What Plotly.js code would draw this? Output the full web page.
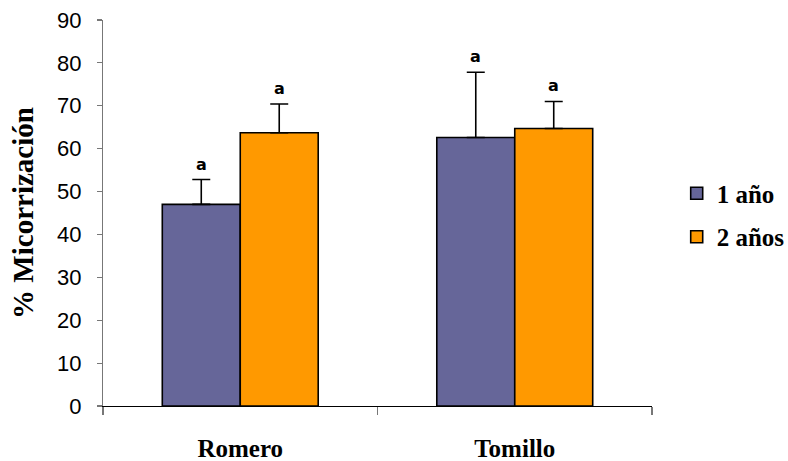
<!DOCTYPE html>
<html>
<head>
<meta charset="utf-8">
<script src="https://cdn.plot.ly/plotly-3.0.1.min.js"></script>
<style>
  html, body { margin: 0; padding: 0; background: #fff; }
  #chart { width: 788px; height: 461px; }
</style>
</head>
<body>
<div id="chart"></div>
<script>
// Mycorrhization percentage by plant species and plant age
const species = ["Romero", "Tomillo"];
const seriesNames = ["1 año", "2 años"];
const mean1 = [47.0, 62.6];
const err1 = [5.8, 15.2];
const mean2 = [63.7, 64.7];
const err2 = [6.7, 6.3];
const letters1 = ["a", "a"];
const letters2 = ["a", "a"];
const yTicks = [0, 10, 20, 30, 40, 50, 60, 70, 80, 90];

const colors = ["#666699", "#FF9900"];

function barTrace(name, means, errs, color, group) {
  return {
    type: "bar",
    name: name,
    legendgroup: group,
    x: species,
    y: means,
    marker: { color: color, line: { color: "#000", width: 1.6 } },
    error_y: {
      type: "data",
      symmetric: false,
      array: errs,
      arrayminus: errs.map(() => 0),
      color: "#000",
      thickness: 1.6,
      width: 9
    }
  };
}

const traces = [
  barTrace(seriesNames[0], mean1, err1, colors[0], "g1"),
  barTrace(seriesNames[1], mean2, err2, colors[1], "g2")
];

// Significance letters above each error bar
const annotations = [];
[[mean1, err1, letters1, 0], [mean2, err2, letters2, 1]].forEach(([m, e, l, k]) => {
  species.forEach((sp, i) => {
    annotations.push({
      x: sp, y: m[i] + e[i], xref: "x", yref: "y",
      text: l[i], showarrow: false,
      xshift: k === 0 ? -39 : 39,
      yanchor: "bottom", yshift: 4,
      font: { family: "DejaVu Sans", size: 16, color: "#000", weight: "bold" }
    });
  });
});

const layout = {
  width: 788, height: 461,
  margin: { l: 103, r: 136, t: 19.5, b: 55, autoexpand: false },
  paper_bgcolor: "#fff", plot_bgcolor: "#fff",
  barmode: "group",
  bargap: 0.432,
  bargroupgap: 0,
  showlegend: true,
  legend: {
    x: 1.045, y: 0.495, xanchor: "left", yanchor: "middle",
    font: { family: "Liberation Serif", size: 25, color: "#000", weight: "bold" },
    traceorder: "grouped",
    tracegroupgap: 8, itemwidth: 30,
    bgcolor: "rgba(0,0,0,0)"
  },
  xaxis: {
    type: "category",
    showline: true, linecolor: "#000", linewidth: 1.2,
    ticks: "outside", tickson: "boundaries", ticklen: 8, tickcolor: "#777", tickwidth: 1.2,
    ticklabelstandoff: 20,
    tickfont: { family: "Liberation Serif", size: 25, color: "#000", weight: "bold" },
    showgrid: false, zeroline: false, fixedrange: true
  },
  yaxis: {
    range: [0, 90],
    tickvals: yTicks,
    ticktext: yTicks.map(String),
    showline: true, linecolor: "#777", linewidth: 1.2,
    ticks: "outside", ticklen: 5, tickcolor: "#777", tickwidth: 1.2,
    ticklabelstandoff: 11,
    tickfont: { family: "Liberation Sans", size: 22, color: "#000" },
    showgrid: false, zeroline: false, fixedrange: true,
    title: {
      text: "% Micorrización",
      font: { family: "Liberation Serif", size: 29, color: "#000", weight: "bold" },
      standoff: 14
    }
  },
  annotations: annotations
};

Plotly.newPlot("chart", traces, layout, { displayModeBar: false, staticPlot: true });
</script>
</body>
</html>
